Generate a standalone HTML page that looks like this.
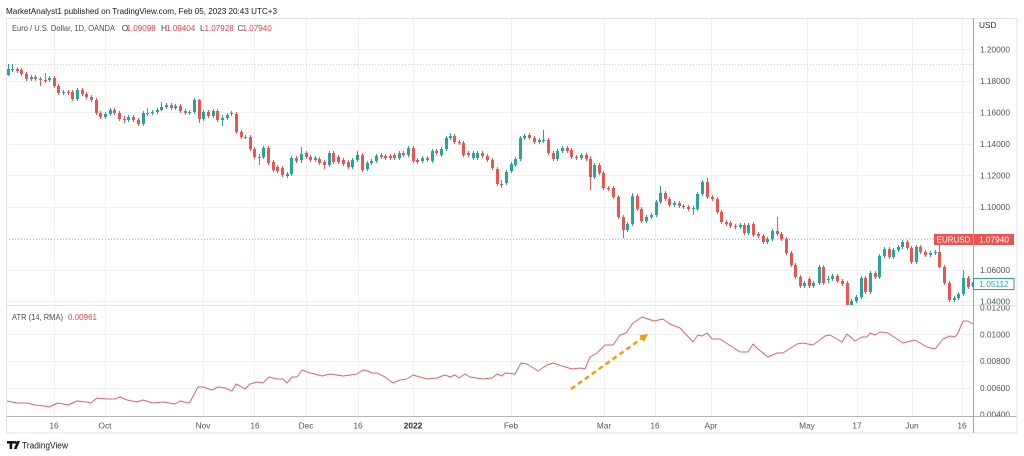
<!DOCTYPE html>
<html>
<head>
<meta charset="utf-8">
<style>
html,body{margin:0;padding:0;background:#fff;}
svg{display:block;}
text{font-family:"Liberation Sans",sans-serif;}
</style>
</head>
<body>
<svg width="1024" height="456" viewBox="0 0 1024 456" xmlns="http://www.w3.org/2000/svg">
<defs>
  <clipPath id="mainClip"><rect x="6.5" y="18.5" width="966.5" height="286.5"/></clipPath>
  <clipPath id="atrClip"><rect x="6.5" y="305.5" width="966.5" height="110.5"/></clipPath>
  <clipPath id="axisMainClip"><rect x="974" y="18.5" width="43" height="286.5"/></clipPath>
  <clipPath id="axisAtrClip"><rect x="974" y="305.5" width="43" height="110.8"/></clipPath>
</defs>
<rect x="0" y="0" width="1024" height="456" fill="#ffffff"/>

<text x="6" y="14" font-size="8.6" fill="#131722" textLength="271" lengthAdjust="spacingAndGlyphs">MarketAnalyst1 published on TradingView.com, Feb 05, 2023 20:43 UTC+3</text>

<g stroke="#edf0f6" stroke-width="1">
  <line x1="54.5" y1="18" x2="54.5" y2="416"/>
  <line x1="105.5" y1="18" x2="105.5" y2="416"/>
  <line x1="203.5" y1="18" x2="203.5" y2="416"/>
  <line x1="254.5" y1="18" x2="254.5" y2="416"/>
  <line x1="306.5" y1="18" x2="306.5" y2="416"/>
  <line x1="358.5" y1="18" x2="358.5" y2="416"/>
  <line x1="413.5" y1="18" x2="413.5" y2="416"/>
  <line x1="511.5" y1="18" x2="511.5" y2="416"/>
  <line x1="604.5" y1="18" x2="604.5" y2="416"/>
  <line x1="655.5" y1="18" x2="655.5" y2="416"/>
  <line x1="711.5" y1="18" x2="711.5" y2="416"/>
  <line x1="807.5" y1="18" x2="807.5" y2="416"/>
  <line x1="857.5" y1="18" x2="857.5" y2="416"/>
  <line x1="912.5" y1="18" x2="912.5" y2="416"/>
  <line x1="962.5" y1="18" x2="962.5" y2="416"/>
  <line x1="6" y1="49.5" x2="973" y2="49.5"/>
  <line x1="6" y1="81.5" x2="973" y2="81.5"/>
  <line x1="6" y1="112.5" x2="973" y2="112.5"/>
  <line x1="6" y1="144.5" x2="973" y2="144.5"/>
  <line x1="6" y1="175.5" x2="973" y2="175.5"/>
  <line x1="6" y1="207.5" x2="973" y2="207.5"/>
  <line x1="6" y1="238.5" x2="973" y2="238.5"/>
  <line x1="6" y1="270.5" x2="973" y2="270.5"/>
  <line x1="6" y1="301.5" x2="973" y2="301.5"/>
  <line x1="6" y1="334.5" x2="973" y2="334.5"/>
  <line x1="6" y1="361.5" x2="973" y2="361.5"/>
  <line x1="6" y1="388.5" x2="973" y2="388.5"/>
</g>

<line x1="6" y1="305.5" x2="1017" y2="305.5" stroke="#e0e3eb" stroke-width="1"/>

<line x1="6" y1="64.5" x2="973" y2="64.5" stroke="#c9cbd2" stroke-width="1" stroke-dasharray="1,2"/>
<line x1="6" y1="239.5" x2="935" y2="239.5" stroke="#b8b8d4" stroke-width="1" stroke-dasharray="1,2"/>

<g clip-path="url(#mainClip)">
<path fill="#ef5350" d="M16 69h3v2h-3z M20 70h3v4h-3z M25 74h3v5h-3z M34 77h3v2h-3z M39 79h3v1h-3z M44 80h3v1h-3z M53 78h3v8h-3z M57 86h3v7h-3z M67 92h3v1h-3z M71 92h3v7h-3z M81 90h3v4h-3z M85 94h3v3h-3z M90 97h3v3h-3z M95 100h3v13h-3z M99 113h3v4h-3z M113 110h3v3h-3z M118 113h3v6h-3z M123 119h3v1h-3z M132 117h3v3h-3z M137 120h3v4h-3z M170 105h3v3h-3z M179 106h3v5h-3z M184 111h3v2h-3z M198 100h3v19h-3z M207 112h3v4h-3z M216 111h3v9h-3z M235 114h3v18h-3z M240 132h3v5h-3z M244 137h3v1h-3z M249 137h3v12h-3z M253 149h3v8h-3z M258 157h3v1h-3z M267 148h3v15h-3z M272 162h3v8h-3z M276 167h3v4h-3z M281 168h3v7h-3z M295 158h3v3h-3z M305 153h3v4h-3z M309 157h3v3h-3z M318 159h3v4h-3z M323 162h3v3h-3z M332 153h3v9h-3z M337 157h3v5h-3z M342 160h3v4h-3z M347 162h3v5h-3z M361 155h3v15h-3z M380 155h3v2h-3z M384 156h3v2h-3z M389 156h3v2h-3z M393 155h3v3h-3z M402 153h3v2h-3z M412 148h3v13h-3z M416 160h3v2h-3z M426 158h3v2h-3z M435 151h3v2h-3z M453 136h3v6h-3z M458 142h3v1h-3z M462 143h3v12h-3z M467 153h3v2h-3z M481 153h3v3h-3z M486 156h3v4h-3z M491 160h3v8h-3z M496 169h3v15h-3z M500 184h3v1h-3z M528 135h3v3h-3z M533 138h3v4h-3z M547 140h3v13h-3z M552 153h3v6h-3z M566 148h3v3h-3z M570 150h3v7h-3z M575 157h3v1h-3z M585 155h3v4h-3z M589 159h3v18h-3z M598 165h3v8h-3z M602 173h3v15h-3z M607 188h3v1h-3z M612 188h3v9h-3z M617 197h3v20h-3z M622 217h3v13h-3z M636 196h3v13h-3z M640 209h3v12h-3z M664 193h3v6h-3z M668 199h3v6h-3z M678 203h3v3h-3z M682 206h3v1h-3z M687 207h3v2h-3z M706 182h3v15h-3z M711 197h3v2h-3z M716 199h3v13h-3z M720 212h3v10h-3z M725 222h3v2h-3z M729 223h3v3h-3z M734 226h3v1h-3z M743 225h3v8h-3z M752 224h3v11h-3z M757 234h3v2h-3z M762 236h3v6h-3z M776 231h3v3h-3z M780 234h3v5h-3z M785 239h3v14h-3z M790 253h3v12h-3z M794 265h3v12h-3z M799 277h3v9h-3z M808 279h3v7h-3z M822 267h3v16h-3z M836 276h3v5h-3z M841 281h3v3h-3z M846 283h3v22h-3z M864 278h3v14h-3z M874 273h3v4h-3z M888 249h3v8h-3z M906 242h3v6h-3z M910 248h3v14h-3z M919 247h3v5h-3z M924 252h3v3h-3z M938 252h3v15h-3z M943 267h3v16h-3z M948 283h3v17h-3z M967 278h3v9h-3z"/>
<path fill="none" stroke="#ef5350" stroke-width="1" d="M17.5 67V73M21.5 68V76M26.5 72V81M35.5 75V81M40.5 77V86M45.5 73V83M54.5 76V88M58.5 84V95M68.5 90V95M72.5 90V101M82.5 88V96M86.5 92V99M91.5 95V102M96.5 98V115M100.5 111V119M114.5 108V115M119.5 111V121M124.5 116V123M133.5 115V122M138.5 118V126M171.5 103V110M180.5 104V113M185.5 109V115M199.5 99V123M208.5 110V118M217.5 109V122M236.5 112V134M241.5 130V139M245.5 135V139M250.5 135V151M254.5 147V159M259.5 154V165M268.5 146V165M273.5 160V172M277.5 165V173M282.5 166V177M296.5 156V163M306.5 151V159M310.5 155V162M319.5 157V165M324.5 160V169M333.5 151V164M338.5 155V164M343.5 158V166M348.5 160V169M362.5 153V172M381.5 153V159M385.5 154V160M390.5 154V160M394.5 153V160M403.5 151V157M413.5 146V163M417.5 158V164M427.5 156V162M436.5 149V155M454.5 134V144M459.5 140V145M463.5 141V157M468.5 151V157M482.5 151V158M487.5 154V162M492.5 158V170M497.5 167V186M501.5 180V188M529.5 133V140M534.5 136V144M548.5 138V155M553.5 151V161M567.5 146V153M571.5 148V159M576.5 155V160M586.5 153V161M590.5 156V190M599.5 163V175M603.5 171V190M608.5 186V191M613.5 186V199M618.5 195V219M623.5 215V238M637.5 194V211M641.5 207V223M665.5 191V201M669.5 197V207M679.5 201V208M683.5 204V209M688.5 205V211M707.5 178V199M712.5 195V201M717.5 197V214M721.5 210V224M726.5 220V226M730.5 221V228M735.5 224V229M744.5 223V235M753.5 222V237M758.5 232V238M763.5 234V244M777.5 217V236M781.5 232V241M786.5 237V255M791.5 251V267M795.5 263V279M800.5 275V288M809.5 277V288M823.5 265V285M837.5 274V283M842.5 279V286M847.5 281V306M865.5 276V294M875.5 271V279M889.5 247V259M907.5 240V250M911.5 246V264M920.5 245V254M925.5 250V257M939.5 243V268M944.5 265V285M949.5 281V302M968.5 276V289"/>
<path fill="#26a69a" d="M7 69h3v6h-3z M11 69h3v1h-3z M30 77h3v2h-3z M48 78h3v2h-3z M62 92h3v1h-3z M76 90h3v9h-3z M104 114h3v3h-3z M109 110h3v4h-3z M127 117h3v3h-3z M142 113h3v11h-3z M146 113h3v1h-3z M151 112h3v1h-3z M156 110h3v2h-3z M160 107h3v3h-3z M165 105h3v2h-3z M174 106h3v2h-3z M188 112h3v1h-3z M193 100h3v12h-3z M202 112h3v7h-3z M212 111h3v5h-3z M221 118h3v2h-3z M226 115h3v3h-3z M230 113h3v1h-3z M262 148h3v9h-3z M286 174h3v2h-3z M290 158h3v16h-3z M300 154h3v6h-3z M314 158h3v2h-3z M328 153h3v12h-3z M351 160h3v7h-3z M356 155h3v5h-3z M366 163h3v6h-3z M370 161h3v2h-3z M375 156h3v5h-3z M398 153h3v5h-3z M407 148h3v7h-3z M421 158h3v3h-3z M431 151h3v10h-3z M440 149h3v6h-3z M445 138h3v11h-3z M449 136h3v2h-3z M472 153h3v5h-3z M476 153h3v5h-3z M505 172h3v11h-3z M510 164h3v7h-3z M514 159h3v6h-3z M519 138h3v21h-3z M523 136h3v2h-3z M538 140h3v2h-3z M542 140h3v1h-3z M556 151h3v8h-3z M561 148h3v3h-3z M580 155h3v3h-3z M593 165h3v12h-3z M626 224h3v6h-3z M631 196h3v28h-3z M645 217h3v4h-3z M650 215h3v2h-3z M655 202h3v13h-3z M659 193h3v9h-3z M673 203h3v2h-3z M692 208h3v1h-3z M696 194h3v15h-3z M701 182h3v12h-3z M739 225h3v2h-3z M747 225h3v8h-3z M766 239h3v3h-3z M771 231h3v8h-3z M803 283h3v3h-3z M812 283h3v3h-3z M818 267h3v16h-3z M827 279h3v1h-3z M831 276h3v3h-3z M850 301h3v4h-3z M855 297h3v4h-3z M860 278h3v19h-3z M869 273h3v19h-3z M878 256h3v21h-3z M883 249h3v7h-3z M892 250h3v7h-3z M897 247h3v3h-3z M901 242h3v5h-3z M915 247h3v15h-3z M929 253h3v2h-3z M934 252h3v1h-3z M953 298h3v2h-3z M957 294h3v4h-3z M962 278h3v16h-3z M971 284h3v1h-3z"/>
<path fill="none" stroke="#26a69a" stroke-width="1" d="M8.5 64V76M12.5 64V72M31.5 75V81M49.5 76V82M63.5 90V95M77.5 88V101M105.5 112V119M110.5 108V116M128.5 115V122M143.5 111V126M147.5 108V116M152.5 110V115M157.5 108V114M161.5 102V111M166.5 103V109M175.5 104V110M189.5 110V115M194.5 98V114M203.5 110V121M213.5 109V118M222.5 115V126M227.5 113V120M231.5 111V116M263.5 146V159M287.5 172V178M291.5 156V176M301.5 147V163M315.5 156V162M329.5 151V167M352.5 158V169M357.5 151V162M367.5 161V171M371.5 159V165M376.5 154V163M399.5 151V160M408.5 146V157M422.5 156V163M432.5 149V163M441.5 147V157M446.5 136V151M450.5 133V140M473.5 151V160M477.5 151V160M506.5 170V185M511.5 162V173M515.5 157V167M520.5 136V161M524.5 134V140M539.5 138V144M543.5 130V143M557.5 149V161M562.5 146V153M581.5 153V160M594.5 163V179M627.5 222V232M632.5 193V226M646.5 215V223M651.5 213V219M656.5 200V217M660.5 186V204M674.5 201V207M693.5 206V215M697.5 192V211M702.5 180V196M740.5 223V229M748.5 223V235M767.5 237V244M772.5 229V241M804.5 281V288M813.5 281V288M819.5 265V285M828.5 276V283M832.5 274V281M851.5 299V306M856.5 295V303M861.5 276V299M870.5 271V294M879.5 254V279M884.5 247V258M893.5 248V259M898.5 245V252M902.5 240V249M916.5 245V264M930.5 251V257M935.5 250V255M954.5 296V302M958.5 292V300M963.5 270V296M972.5 282V287"/>
</g>

<g clip-path="url(#atrClip)">
<polyline fill="none" stroke="#dd6565" stroke-width="1" stroke-linejoin="round" points="7,401 17,403 27,403 35,405 45,406 49,407 58,403 68,405 77,401 87,402 91,403 97,398 107,399 115,399 120,397 127,400 137,402 143,400 153,403 163,402 175,404 180,401 188,403 190,402 198,387 203,387 212,390 218,387 225,388 232,391 236,384 240,386 245,389 250,384 257,382 263,383 269,377 277,379 283,379 287,383 292,377 297,377 302,370 310,373 315,374 322,376 330,374 343,376 357,374 363,370 368,371 372,373 377,373 385,377 393,383 400,380 407,379 413,375 420,377 427,379 437,378 445,375 450,377 455,375 459,378 465,374 470,377 483,379 492,378 497,374 502,376 505,373 515,374 521,363 527,364 538,371 547,365 553,363 562,366 572,369 580,368 585,369 590,357 597,353 605,345 613,345 620,335 626,333 633,323 642,317 648,319 654,321 663,319 670,324 680,328 693,342 698,335 702,336 707,333 712,339 720,339 740,352 748,352 753,344 758,349 768,357 777,353 783,353 797,344 803,343 813,345 825,336 830,335 842,342 847,334 855,341 862,337 867,337 870,333 875,335 880,332 888,333 903,343 915,340 927,347 935,349 943,339 950,336 955,337 958,333 963,321 968,321 973,324"/>
</g>

<line x1="571" y1="389" x2="641.5" y2="338.6" stroke="#ff9800" stroke-width="2.4" stroke-dasharray="5,3.5"/>
<polygon points="648,334 643.8,341.9 639.2,335.3" fill="#ff9800"/>

<line x1="6" y1="416.5" x2="1017" y2="416.5" stroke="#b2b5be" stroke-width="1"/>
<rect x="6.5" y="18.5" width="1010.5" height="414.5" fill="none" stroke="#e0e3eb" stroke-width="1"/>
<line x1="973.5" y1="18" x2="973.5" y2="433" stroke="#a3a6af" stroke-width="1"/>

<text x="12" y="31" font-size="8.3" fill="#4a4d57" textLength="103" lengthAdjust="spacingAndGlyphs">Euro / U.S. Dollar, 1D, OANDA</text>
<text x="121.7" y="31" font-size="8.3" fill="#4a4d57">O</text>
<text x="126.5" y="31" font-size="8.3" fill="#f23645" textLength="29.3" lengthAdjust="spacingAndGlyphs">1.09098</text>
<text x="161" y="31" font-size="8.3" fill="#4a4d57">H</text>
<text x="166" y="31" font-size="8.3" fill="#f23645" textLength="29.3" lengthAdjust="spacingAndGlyphs">1.09404</text>
<text x="200" y="31" font-size="8.3" fill="#4a4d57">L</text>
<text x="204.5" y="31" font-size="8.3" fill="#f23645" textLength="29.3" lengthAdjust="spacingAndGlyphs">1.07928</text>
<text x="237.5" y="31" font-size="8.3" fill="#4a4d57">C</text>
<text x="242.5" y="31" font-size="8.3" fill="#f23645" textLength="29.3" lengthAdjust="spacingAndGlyphs">1.07940</text>

<text x="12" y="320" font-size="8.3" fill="#4a4d57" textLength="51" lengthAdjust="spacingAndGlyphs">ATR (14, RMA)</text>
<text x="68" y="320" font-size="8.3" fill="#e0464c" textLength="29" lengthAdjust="spacingAndGlyphs">0.00961</text>

<text x="979" y="28" font-size="8.3" fill="#2a2e39">USD</text>
<g font-size="8.3" fill="#50535e" clip-path="url(#axisMainClip)">
  <text x="980" y="52.5">1.20000</text>
  <text x="980" y="84">1.18000</text>
  <text x="980" y="115.5">1.16000</text>
  <text x="980" y="147">1.14000</text>
  <text x="980" y="178.5">1.12000</text>
  <text x="980" y="210">1.10000</text>
  <text x="980" y="273">1.06000</text>
  <text x="980" y="304.5">1.04000</text>
</g>
<g font-size="8.3" fill="#50535e" clip-path="url(#axisAtrClip)">
  <text x="980" y="310.5">0.01200</text>
  <text x="980" y="337.3">0.01000</text>
  <text x="980" y="364">0.00800</text>
  <text x="980" y="391">0.00600</text>
  <text x="980" y="417.5">0.00400</text>
</g>

<rect x="934" y="234" width="39" height="11" fill="#ef5350"/>
<text x="953.5" y="242.6" font-size="8" fill="#ffffff" text-anchor="middle">EURUSD</text>
<rect x="974" y="234" width="40" height="11" fill="#ef5350"/>
<text x="994" y="242.6" font-size="8.3" fill="#ffffff" text-anchor="middle">1.07940</text>
<rect x="973.5" y="278.5" width="40.5" height="11" fill="#ffffff" stroke="#26a69a" stroke-width="1"/>
<text x="994" y="287.2" font-size="8.3" fill="#26a69a" text-anchor="middle">1.05112</text>

<g font-size="8.3" fill="#50535e" text-anchor="middle">
  <text x="54" y="428.5">16</text>
  <text x="105" y="428.5">Oct</text>
  <text x="203" y="428.5">Nov</text>
  <text x="255" y="428.5">16</text>
  <text x="306" y="428.5">Dec</text>
  <text x="358" y="428.5">16</text>
  <text x="413" y="428.5" font-weight="bold" fill="#2a2e39">2022</text>
  <text x="511" y="428.5">Feb</text>
  <text x="604" y="428.5">Mar</text>
  <text x="655" y="428.5">16</text>
  <text x="711" y="428.5">Apr</text>
  <text x="807" y="428.5">May</text>
  <text x="857" y="428.5">17</text>
  <text x="912" y="428.5">Jun</text>
  <text x="962" y="428.5">16</text>
</g>

<g fill="#131722">
  <rect x="7" y="441" width="7" height="2.6"/>
  <rect x="9.6" y="441" width="2.6" height="8"/>
  <circle cx="15.3" cy="442.4" r="1.4"/>
  <polygon points="17.2,441 20,441 16.6,449 13.8,449"/>
</g>
<text x="22" y="448.5" font-size="9.4" fill="#131722" textLength="46" lengthAdjust="spacingAndGlyphs">TradingView</text>
</svg>
</body>
</html>
